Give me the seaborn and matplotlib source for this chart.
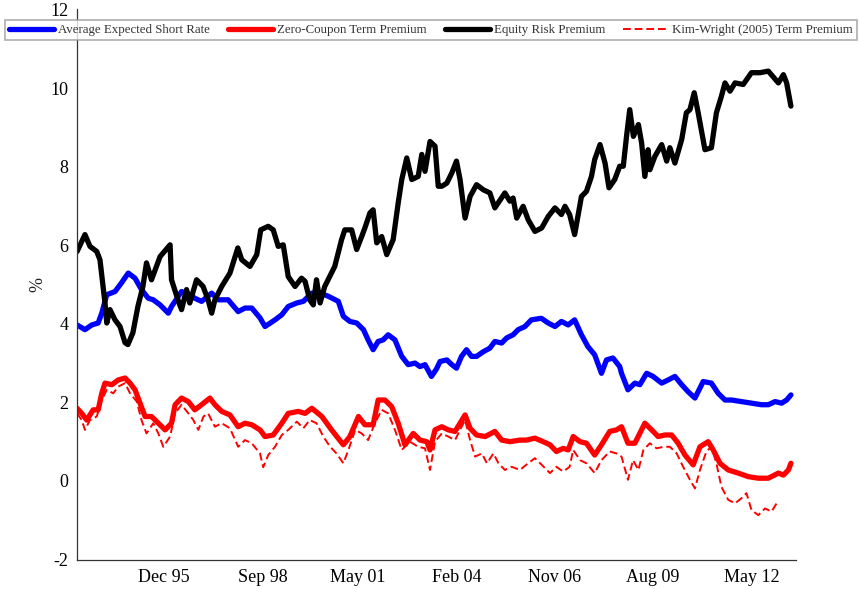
import pandas as pd
import matplotlib
matplotlib.use("Agg")
import matplotlib.pyplot as plt
import seaborn as sns

# values (decimal year, percent)
short_t = [1993.49, 1993.71, 1993.90, 1994.08, 1994.18, 1994.32, 1994.55, 1994.73, 1994.92, 1995.11,
           1995.29, 1995.48, 1995.62, 1995.81, 1996.04, 1996.13, 1996.41, 1996.64, 1996.78, 1996.97,
           1997.25, 1997.43, 1997.71, 1997.99, 1998.18, 1998.37, 1998.60, 1998.74, 1999.02, 1999.21,
           1999.39, 1999.63, 1999.81, 2000.05, 2000.28, 2000.51, 2000.79, 2000.93, 2001.11, 2001.30,
           2001.49, 2001.62, 2001.76, 2001.90, 2002.04, 2002.18, 2002.37, 2002.56, 2002.74, 2002.93,
           2003.07, 2003.21, 2003.39, 2003.53, 2003.63, 2003.82, 2003.96, 2004.09, 2004.23, 2004.37,
           2004.51, 2004.65, 2004.84, 2005.02, 2005.16, 2005.35, 2005.49, 2005.67, 2005.81, 2006.00,
           2006.18, 2006.46, 2006.65, 2006.84, 2007.02, 2007.21, 2007.39, 2007.58, 2007.76, 2007.95,
           2008.14, 2008.28, 2008.46, 2008.65, 2008.70, 2008.88, 2009.07, 2009.21, 2009.40, 2009.58,
           2009.82, 2010.00, 2010.19, 2010.38, 2010.56, 2010.75, 2010.98, 2011.21, 2011.40, 2011.59,
           2011.77, 2012.05, 2012.33, 2012.61, 2012.80, 2012.99, 2013.17, 2013.31, 2013.43]
short_v = [3.97, 3.85, 3.97, 4.02, 4.27, 4.74, 4.82, 5.04, 5.29, 5.16,
           4.87, 4.65, 4.61, 4.48, 4.27, 4.44, 4.82, 4.74, 4.65, 4.57,
           4.78, 4.61, 4.61, 4.31, 4.40, 4.40, 4.15, 3.93, 4.10, 4.23,
           4.44, 4.53, 4.57, 4.78, 4.78, 4.70, 4.57, 4.19, 4.06, 4.02,
           3.85, 3.59, 3.34, 3.55, 3.59, 3.72, 3.59, 3.17, 2.96, 3.00,
           2.91, 2.96, 2.66, 2.85, 3.04, 3.08, 2.96, 2.87, 3.17, 3.34,
           3.17, 3.17, 3.29, 3.38, 3.55, 3.51, 3.64, 3.72, 3.85, 3.93,
           4.10, 4.14, 4.02, 3.93, 4.06, 3.97, 4.10, 3.72, 3.42, 3.21,
           2.74, 3.08, 3.13, 2.91, 2.74, 2.32, 2.49, 2.45, 2.74, 2.66,
           2.49, 2.57, 2.66, 2.45, 2.27, 2.11, 2.53, 2.49, 2.23, 2.06,
           2.06, 2.02, 1.98, 1.94, 1.94, 2.02, 1.98, 2.06, 2.19]

zc_t = [1993.49, 1993.62, 1993.76, 1993.94, 1994.08, 1994.18, 1994.27, 1994.46, 1994.64, 1994.83,
        1994.97, 1995.11, 1995.25, 1995.39, 1995.57, 1995.76, 1995.95, 1996.13, 1996.23, 1996.41,
        1996.60, 1996.78, 1996.97, 1997.20, 1997.34, 1997.53, 1997.76, 1997.99, 1998.18, 1998.37,
        1998.60, 1998.74, 1998.97, 1999.21, 1999.39, 1999.67, 1999.86, 2000.05, 2000.33, 2000.60,
        2000.93, 2001.11, 2001.35, 2001.53, 2001.76, 2001.90, 2002.09, 2002.28, 2002.46, 2002.65,
        2002.88, 2003.07, 2003.26, 2003.35, 2003.49, 2003.68, 2003.86, 2004.05, 2004.19, 2004.33,
        2004.47, 2004.65, 2004.89, 2005.16, 2005.35, 2005.58, 2005.86, 2006.04, 2006.28, 2006.51,
        2006.70, 2006.88, 2007.07, 2007.21, 2007.35, 2007.54, 2007.72, 2007.95, 2008.14, 2008.37,
        2008.56, 2008.70, 2008.88, 2009.07, 2009.35, 2009.54, 2009.72, 2009.91, 2010.10, 2010.28,
        2010.47, 2010.70, 2010.89, 2011.12, 2011.26, 2011.45, 2011.68, 2011.96, 2012.24, 2012.52,
        2012.80, 2013.08, 2013.22, 2013.36, 2013.43]
zc_v = [1.85, 1.72, 1.55, 1.81, 1.81, 2.23, 2.49, 2.45, 2.57, 2.62,
        2.49, 2.32, 1.98, 1.64, 1.64, 1.47, 1.30, 1.47, 1.94, 2.11,
        2.02, 1.81, 1.94, 2.11, 1.94, 1.77, 1.68, 1.38, 1.47, 1.43,
        1.30, 1.13, 1.17, 1.47, 1.72, 1.77, 1.72, 1.85, 1.64, 1.30,
        0.92, 1.13, 1.64, 1.43, 1.43, 2.06, 2.06, 1.89, 1.47, 0.92,
        1.21, 1.04, 1.00, 0.79, 1.30, 1.38, 1.30, 1.26, 1.47, 1.68,
        1.34, 1.17, 1.13, 1.26, 1.04, 1.00, 1.04, 1.04, 1.09, 1.00,
        0.92, 0.75, 0.83, 0.79, 1.13, 1.00, 0.96, 0.66, 0.92, 1.26,
        1.30, 1.38, 0.96, 0.96, 1.47, 1.30, 1.13, 1.17, 1.17, 0.96,
        0.66, 0.41, 0.87, 1.00, 0.79, 0.45, 0.28, 0.20, 0.11, 0.07,
        0.07, 0.20, 0.15, 0.28, 0.45]

erp_t = [1993.49, 1993.71, 1993.85, 1994.04, 1994.13, 1994.27, 1994.32, 1994.41, 1994.55, 1994.69,
         1994.83, 1994.91, 1995.05, 1995.19, 1995.33, 1995.43, 1995.57, 1995.81, 1996.09, 1996.13,
         1996.31, 1996.41, 1996.55, 1996.64, 1996.83, 1997.01, 1997.15, 1997.25, 1997.34, 1997.53,
         1997.76, 1997.98, 1998.09, 1998.32, 1998.51, 1998.62, 1998.83, 1998.97, 1999.11, 1999.25,
         1999.39, 1999.58, 1999.76, 1999.86, 1999.99, 2000.09, 2000.18, 2000.28, 2000.41, 2000.69,
         2000.88, 2000.97, 2001.16, 2001.30, 2001.44, 2001.53, 2001.67, 2001.76, 2001.86, 2002.00,
         2002.14, 2002.32, 2002.46, 2002.56, 2002.70, 2002.84, 2003.02, 2003.12, 2003.21, 2003.35,
         2003.49, 2003.58, 2003.68, 2003.82, 2003.96, 2004.09, 2004.19, 2004.33, 2004.47, 2004.65,
         2004.84, 2005.02, 2005.16, 2005.44, 2005.58, 2005.67, 2005.77, 2005.95, 2006.09, 2006.28,
         2006.47, 2006.65, 2006.84, 2007.02, 2007.12, 2007.25, 2007.39, 2007.58, 2007.72, 2007.86,
         2007.95, 2008.10, 2008.24, 2008.35, 2008.51, 2008.65, 2008.75, 2008.84, 2008.93, 2009.03,
         2009.17, 2009.26, 2009.35, 2009.44, 2009.49, 2009.63, 2009.82, 2009.96, 2010.05, 2010.19,
         2010.38, 2010.51, 2010.61, 2010.73, 2010.84, 2011.03, 2011.21, 2011.35, 2011.49, 2011.59,
         2011.73, 2011.87, 2012.10, 2012.33, 2012.57, 2012.80, 2013.08, 2013.22, 2013.31, 2013.43]
erp_v = [5.84, 6.27, 5.97, 5.84, 5.63, 4.53, 4.02, 4.36, 4.10, 3.93,
         3.52, 3.47, 3.77, 4.44, 4.95, 5.55, 5.12, 5.71, 6.01, 5.12,
         4.61, 4.36, 4.87, 4.53, 5.12, 4.95, 4.61, 4.27, 4.61, 4.95,
         5.29, 5.93, 5.63, 5.46, 5.76, 6.39, 6.48, 6.39, 5.97, 6.01,
         5.20, 4.95, 5.16, 5.08, 4.61, 4.48, 5.12, 4.53, 4.95, 5.46,
         6.14, 6.39, 6.39, 5.89, 6.22, 6.44, 6.82, 6.90, 6.06, 6.22,
         5.76, 6.14, 7.07, 7.67, 8.22, 7.67, 7.75, 8.31, 7.88, 8.64,
         8.52, 7.50, 7.50, 7.58, 7.84, 8.14, 7.67, 6.69, 7.24, 7.54,
         7.41, 7.33, 6.95, 7.33, 7.12, 7.20, 6.69, 6.99, 6.65, 6.35,
         6.44, 6.73, 6.95, 6.78, 6.99, 6.78, 6.27, 7.24, 7.37, 7.75,
         8.18, 8.56, 8.09, 7.46, 7.67, 8.01, 8.01, 8.77, 9.45, 8.77,
         9.07, 8.60, 7.75, 8.43, 7.92, 8.26, 8.56, 8.14, 8.48, 8.09,
         8.69, 9.37, 9.45, 9.88, 9.37, 8.43, 8.48, 9.37, 9.79, 10.13,
         9.92, 10.13, 10.09, 10.39, 10.39, 10.43, 10.13, 10.34, 10.13, 9.54]

kw_t = [1993.49, 1993.62, 1993.71, 1993.85, 1994.04, 1994.18, 1994.32, 1994.50, 1994.64, 1994.83,
        1994.97, 1995.16, 1995.29, 1995.43, 1995.62, 1995.76, 1995.90, 1996.09, 1996.23, 1996.41,
        1996.60, 1996.74, 1996.88, 1997.02, 1997.15, 1997.34, 1997.53, 1997.76, 1997.99, 1998.18,
        1998.37, 1998.60, 1998.69, 1998.83, 1999.02, 1999.21, 1999.39, 1999.63, 1999.81, 1999.99,
        2000.18, 2000.37, 2000.56, 2000.74, 2000.93, 2001.07, 2001.26, 2001.44, 2001.62, 2001.81,
        2002.00, 2002.18, 2002.37, 2002.56, 2002.79, 2003.02, 2003.21, 2003.35, 2003.49, 2003.68,
        2003.86, 2004.05, 2004.19, 2004.33, 2004.47, 2004.61, 2004.80, 2004.94, 2005.12, 2005.26,
        2005.44, 2005.63, 2005.86, 2006.09, 2006.28, 2006.47, 2006.70, 2006.88, 2007.07, 2007.25,
        2007.35, 2007.54, 2007.72, 2007.95, 2008.14, 2008.37, 2008.56, 2008.70, 2008.88, 2009.02,
        2009.17, 2009.31, 2009.49, 2009.68, 2009.87, 2010.05, 2010.24, 2010.42, 2010.61, 2010.75,
        2010.89, 2011.07, 2011.21, 2011.35, 2011.49, 2011.68, 2011.87, 2012.05, 2012.19, 2012.33,
        2012.52, 2012.71, 2012.89, 2013.03, 2013.12]
kw_v = [1.72, 1.55, 1.30, 1.55, 1.64, 2.06, 2.32, 2.23, 2.40, 2.49,
        2.23, 2.02, 1.55, 1.21, 1.47, 1.21, 0.87, 1.13, 1.72, 1.94,
        1.72, 1.55, 1.30, 1.64, 1.72, 1.38, 1.47, 1.34, 0.87, 1.04,
        0.96, 0.70, 0.35, 0.66, 0.87, 1.17, 1.30, 1.51, 1.34, 1.55,
        1.47, 1.13, 0.87, 0.70, 0.45, 0.79, 1.30, 1.21, 1.04, 1.47,
        1.81, 1.72, 1.30, 0.79, 1.00, 0.87, 0.83, 0.28, 1.00, 1.21,
        1.13, 1.04, 1.30, 1.55, 1.04, 0.62, 0.70, 0.45, 0.70, 0.45,
        0.28, 0.36, 0.28, 0.45, 0.58, 0.41, 0.20, 0.36, 0.24, 0.36,
        0.79, 0.53, 0.45, 0.20, 0.53, 0.75, 0.70, 0.62, 0.03, 0.53,
        0.28, 0.79, 0.96, 0.83, 0.87, 0.87, 0.70, 0.36, 0.03, -0.19,
        0.28, 0.75, 0.87, 0.45, -0.15, -0.48, -0.57, -0.44, -0.31, -0.74,
        -0.87, -0.70, -0.78, -0.57, -0.61]

tick_dates = ["1995-12-01", "1998-09-01", "2001-05-01", "2004-02-01",
              "2006-11-01", "2009-08-01", "2012-05-01"]
tick_labels = ["Dec 95", "Sep 98", "May 01", "Feb 04", "Nov 06", "Aug 09", "May 12"]


def to_date(years):
    out = []
    for y in years:
        yr = int(y)
        out.append(pd.Timestamp(yr, 1, 1) + pd.Timedelta(days=(y - yr) * 365.25))
    return out


sns.set_style("white")
plt.rcParams["font.family"] = ["Liberation Serif", "DejaVu Serif"]
plt.rcParams["axes.unicode_minus"] = False

fig = plt.figure(figsize=(8.6, 5.89), dpi=100)
ax = fig.add_axes([0.0895, 0.050, 0.836, 0.934])

sns.lineplot(x=to_date(short_t), y=short_v, ax=ax, color=(0, 0, 1), lw=3.8,
             label="Average Expected Short Rate", sort=False, estimator=None)
sns.lineplot(x=to_date(zc_t), y=zc_v, ax=ax, color=(1, 0, 0), lw=3.8,
             label="Zero-Coupon Term Premium", sort=False, estimator=None)
sns.lineplot(x=to_date(erp_t), y=erp_v, ax=ax, color="black", lw=3.8,
             label="Equity Risk Premium", sort=False, estimator=None)
sns.lineplot(x=to_date(kw_t), y=kw_v, ax=ax, color=(1, 0, 0), lw=1.4,
             label="Kim-Wright (2005) Term Premium", sort=False, estimator=None)
ax.lines[-1].set_dashes([4, 2])

ax.set_xlim(to_date([1993.487])[0], to_date([2013.57])[0])
ax.set_ylim(-2, 12)
ax.set_yticks(range(-2, 13, 2))
ax.set_xticks(pd.to_datetime(tick_dates))
ax.set_xticklabels(tick_labels)
ax.tick_params(direction="in", length=5, width=0.8, color="#555555",
               labelsize=13, pad=6, labelcolor="black")
ax.tick_params(axis="x", pad=7)

for s in ["top", "right"]:
    ax.spines[s].set_visible(False)
for s in ["left", "bottom"]:
    ax.spines[s].set_color("#333333")
    ax.spines[s].set_linewidth(0.9)

ax.set_ylabel("%", fontsize=13)
ax.yaxis.set_label_coords(-0.043, 0.5)

leg = ax.legend(loc="center", ncol=4, mode="expand",
                bbox_to_anchor=(5 / 860, 1 - 41.5 / 589, 852 / 860, 23 / 589),
                bbox_transform=fig.transFigure, fontsize=9.3, frameon=True,
                fancybox=False, handlelength=3.5, handletextpad=0.3,
                borderpad=0.3, columnspacing=1.0, borderaxespad=0)
leg.get_frame().set_edgecolor("#999999")
leg.get_frame().set_linewidth(1.2)
leg.set_zorder(10)
for txt in leg.get_texts():
    txt.set_color("#333333")

fig.savefig("out.png", dpi=100)
